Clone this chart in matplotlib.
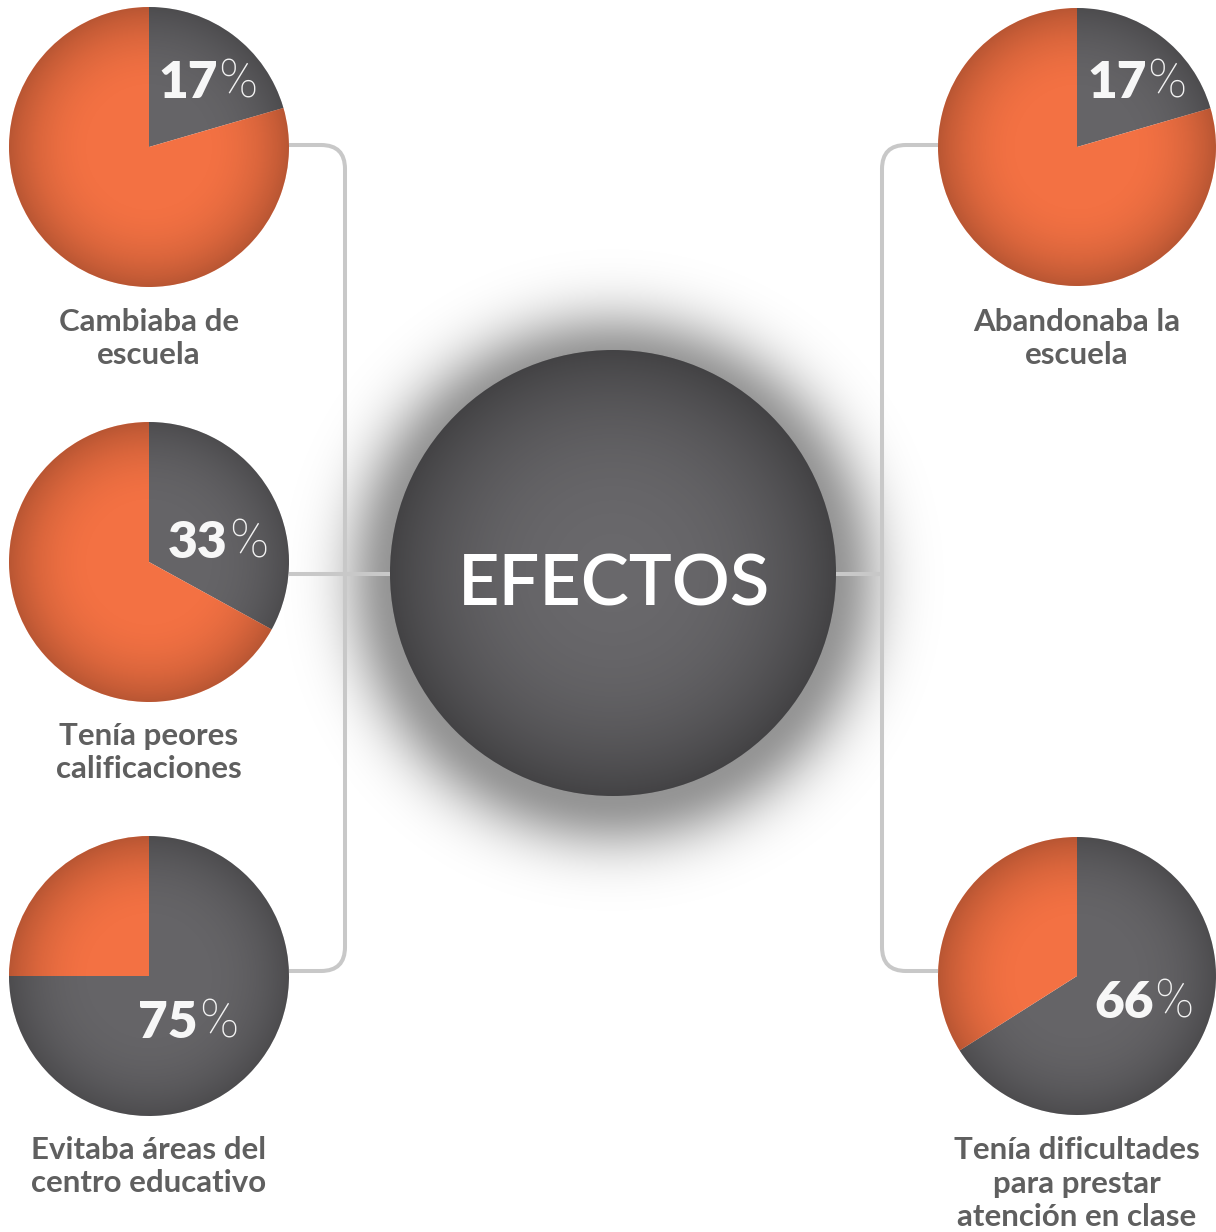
import numpy as np
import matplotlib
matplotlib.use("Agg")
import matplotlib.pyplot as plt
from matplotlib.patches import Circle
from matplotlib.path import Path
from matplotlib.patches import PathPatch

# data
labels = ["Cambiaba de\nescuela",
          "Tenía peores\ncalificaciones",
          "Evitaba áreas del\ncentro educativo",
          "Abandonaba la\nescuela",
          "Tenía dificultades\npara prestar\natención en clase"]
percents = [17, 33, 75, 17, 66]
# share of the dark wedge as it is drawn in the picture
wedge_share = [20.5, 33, 75, 20.5, 66]
center_label = "EFECTOS"

W, H = 1216, 1232
DARK = "#656467"
ORANGE = "#F37143"
LINE = "#C8C8C8"
TXT = "#5F5F5F"

def Y(y):
    return H - y

# layout (pixel positions: pie centre, radius, pct text x, pct baseline, label first baseline)
pie_pos = [(149, 147, 140, 158, 98, 331),
           (149, 562, 140, 168, 558, 745),
           (149, 976, 140, 138, 1038, 1159),
           (1077, 147, 139, 1087, 98, 331),
           (1077, 976, 139, 1094, 1018, 1159)]

fig = plt.figure(figsize=(W / 100, H / 100), dpi=100)
ax = fig.add_axes([0, 0, 1, 1])


def vignette(cx, cy, r, strength, power, z, start=0.0):
    n = 400
    g = np.linspace(-1, 1, n)
    xx, yy = np.meshgrid(g, g)
    d = np.sqrt(xx ** 2 + yy ** 2)
    t = np.clip((d - start) / (1 - start), 0, 1)
    img = np.zeros((n, n, 4))
    img[..., 3] = strength * t ** power
    im = ax.imshow(img, extent=(cx - r, cx + r, Y(cy) - r, Y(cy) + r),
                   origin="lower", zorder=z, interpolation="bilinear")
    clip = Circle((cx, Y(cy)), r, transform=ax.transData)
    im.set_clip_path(clip)


# shadow of the central circle
ccx, ccy, cr = 613, 573, 223
n = 600
ext = 360
g = np.linspace(-ext, ext, n)
xx, yy = np.meshgrid(g, g)
d = np.sqrt(xx ** 2 + (yy + 7) ** 2)
a = 0.42 * np.exp(-(np.clip(d - cr + 4, 0, None) / 52.0) ** 2)
sh = np.zeros((n, n, 4))
sh[..., 3] = a
ax.imshow(sh, extent=(ccx - ext, ccx + ext, Y(ccy) - ext, Y(ccy) + ext),
          origin="lower", zorder=1, interpolation="bilinear")

# connector lines
rc = 24
xl, xr = 345, 882
yt, yb, ym = 145, 971, 574
left = [(289, yt), (xl - rc, yt), (xl, yt), (xl, yt + rc), (xl, yb - rc), (xl, yb), (xl - rc, yb), (289, yb)]
right = [(938, yt), (xr + rc, yt), (xr, yt), (xr, yt + rc), (xr, yb - rc), (xr, yb), (xr + rc, yb), (938, yb)]
codes = [Path.MOVETO, Path.LINETO, Path.CURVE3, Path.CURVE3, Path.LINETO, Path.CURVE3, Path.CURVE3, Path.LINETO]
for pts in (left, right):
    p = Path([(x, Y(y)) for x, y in pts], codes)
    ax.add_patch(PathPatch(p, fill=False, edgecolor=LINE, lw=2.9, zorder=2, capstyle="butt"))
ax.plot([289, 400], [Y(ym), Y(ym)], color=LINE, lw=2.9, zorder=2, solid_capstyle="butt")
ax.plot([830, xr], [Y(ym), Y(ym)], color=LINE, lw=2.9, zorder=2, solid_capstyle="butt")

# central circle
ax.add_patch(Circle((ccx, Y(ccy)), cr, facecolor="#69686B", edgecolor="none", zorder=3))
vignette(ccx, ccy, cr, 0.36, 2.6, 4)
ax.text(ccx + 1, Y(606), center_label, ha="center", va="baseline", color="white",
        fontsize=52, family="Lato", fontweight="semibold", zorder=5)

ax.set_xlim(0, W)
ax.set_ylim(0, H)

# pies
num_texts = []
for (cx, cy, r, tx, tb, lb), share, pct, lab in zip(pie_pos, wedge_share, percents, labels):
    wedges, _ = ax.pie([share, 100 - share], colors=[DARK, ORANGE], startangle=90,
                       counterclock=False, center=(cx, Y(cy)), radius=r, frame=True,
                       wedgeprops=dict(linewidth=0))
    for w in wedges:
        w.set_zorder(6)
    vignette(cx, cy, r, 0.24, 2.2, 7, start=0.35)
    t = ax.text(tx, Y(tb), str(pct), ha="left", va="baseline", color="#F7F7F7",
                fontsize=37, family="Lato", fontweight="heavy", zorder=8)
    num_texts.append((t, tb))
    for i, line in enumerate(lab.split("\n")):
        ax.text(cx, Y(lb + i * 33.5), line, ha="center", va="baseline", color=TXT,
                fontsize=22.5, family="Lato", fontweight="bold", zorder=8)

ax.set_xlim(0, W)
ax.set_ylim(0, H)
ax.set_aspect("auto")
ax.axis("off")

# light "%" sign on the same baseline, right after each number
fig.canvas.draw()
for t, tb in num_texts:
    bb = t.get_window_extent()
    x_end = ax.transData.inverted().transform((bb.x1, bb.y0))[0]
    ax.text(x_end + 1, Y(tb), "%", ha="left", va="baseline", color="#F2F2F2",
            fontsize=38, family="Roboto", fontweight="light", zorder=8)

fig.savefig("out.png", dpi=100, facecolor="white")
